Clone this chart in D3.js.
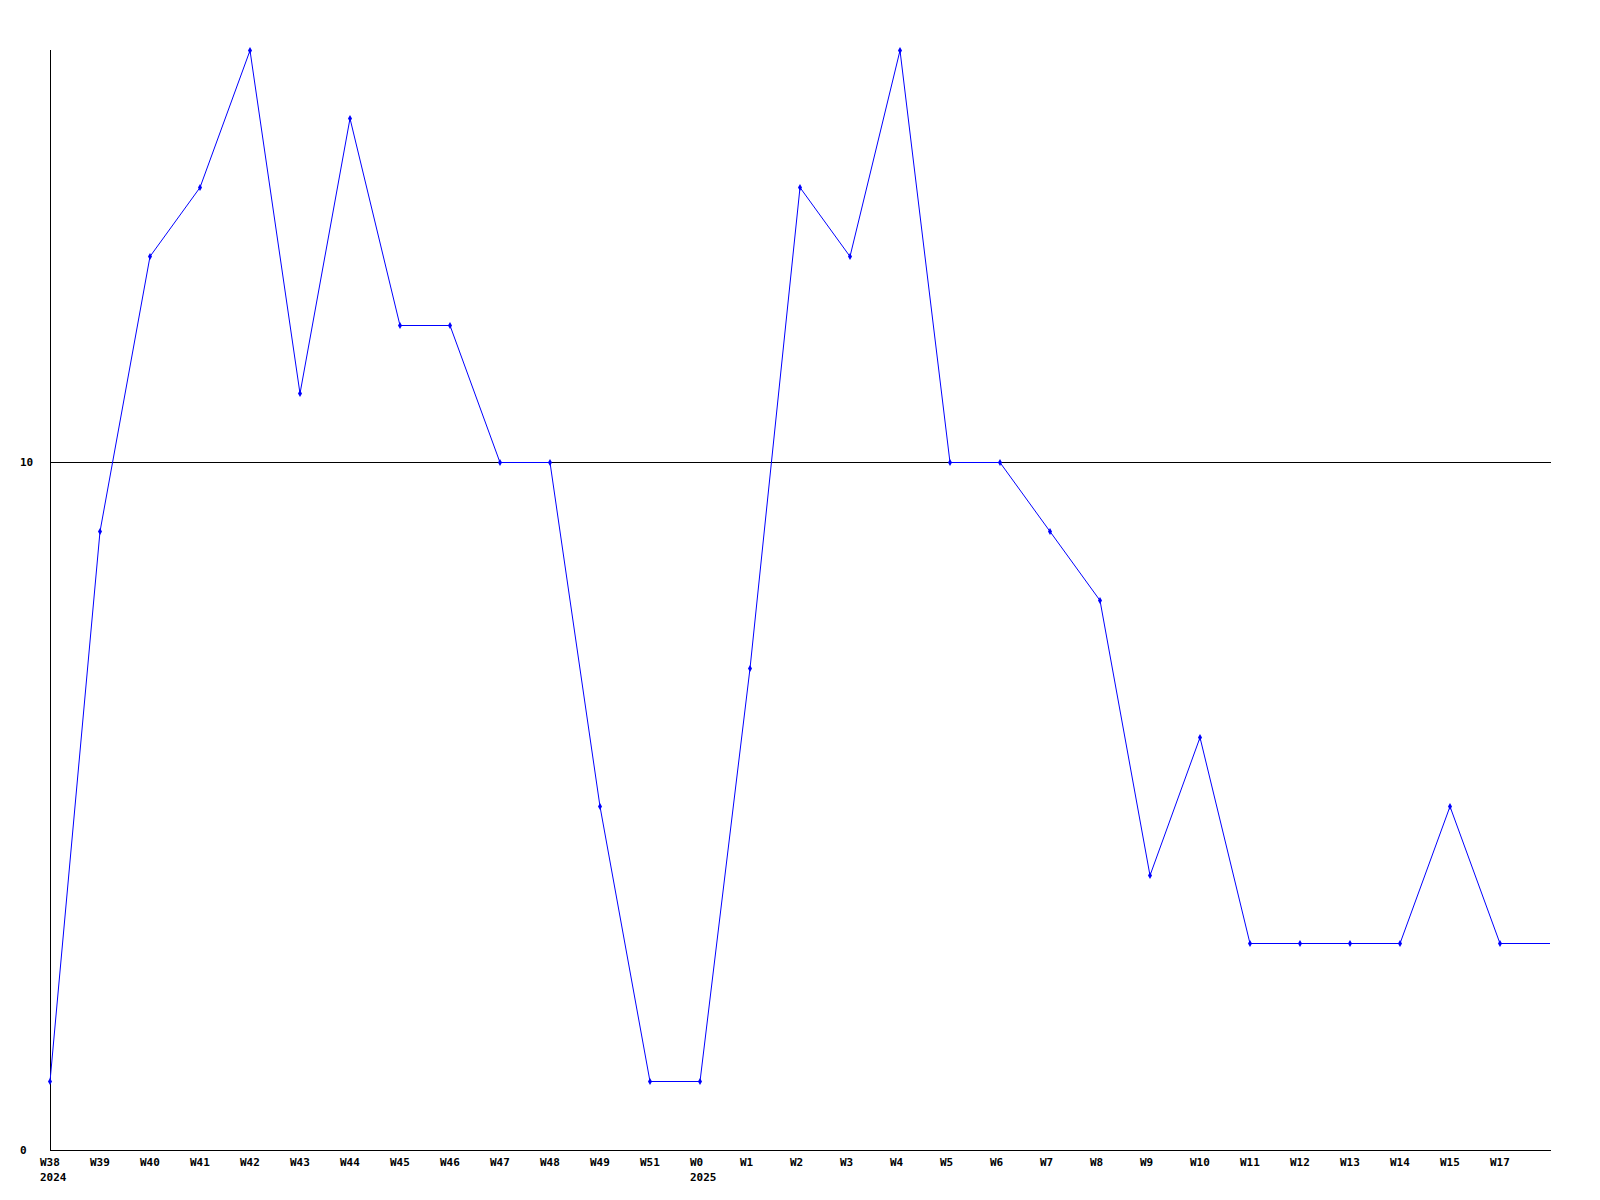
<!DOCTYPE html>
<html><head><meta charset="utf-8">
<script src="https://cdn.jsdelivr.net/npm/d3@7"></script>
<style>body{margin:0;background:#fff}svg{display:block}</style>
</head><body>
<script>
const weekLabels = ["W38","W39","W40","W41","W42","W43","W44","W45","W46","W47","W48","W49","W51","W0","W1","W2","W3","W4","W5","W6","W7","W8","W9","W10","W11","W12","W13","W14","W15","W17",""];
const yearLabels = ["2024","","","","","","","","","","","","","2025","","","","","","","","","","","","","","","","",""];
const values = [1,9,13,14,16,11,15,12,12,10,10,5,1,1,7,14,13,16,10,10,9,8,4,6,3,3,3,3,5,3,3];
const markerShown = weekLabels.map(l => l !== "");
const yTicks = [0,10];

const W = 1600, H = 1200;
const svg = d3.select("body").append("svg").attr("width", W).attr("height", H);
const x = d3.scalePoint().domain(d3.range(weekLabels.length)).range([50, 1550]);
const y = d3.scaleLinear().domain([0,16]).range([1150, 50]);
const font = "'DejaVu Sans Mono', monospace";

// axes lines
svg.append("line").attr("x1",50.5).attr("x2",50.5).attr("y1",y(16)).attr("y2",y(0)).attr("stroke","#000").attr("shape-rendering","crispEdges");
svg.append("line").attr("x1",50).attr("x2",1551).attr("y1",y(0)+0.5).attr("y2",y(0)+0.5).attr("stroke","#000").attr("shape-rendering","crispEdges");
// grid at 10
yTicks.filter(t => t > 0).forEach(t => {
  svg.append("line").attr("x1",50).attr("x2",1551).attr("y1",Math.floor(y(t))+0.5).attr("y2",Math.floor(y(t))+0.5).attr("stroke","#000").attr("shape-rendering","crispEdges");
});
// y tick labels
svg.selectAll("text.yt").data(yTicks).enter().append("text")
  .attr("x",20).attr("y",d=>y(d)).attr("dy","0.35em")
  .attr("font-family",font).attr("font-weight","bold").attr("font-size",11)
  .text(d=>d);
// x labels
svg.selectAll("text.xl").data(weekLabels).enter().append("text")
  .attr("x",(d,i)=>x(i)-10).attr("y",1166)
  .attr("font-family",font).attr("font-weight","bold").attr("font-size",11)
  .text(d=>d);
svg.selectAll("text.yl").data(yearLabels).enter().append("text")
  .attr("x",(d,i)=>x(i)-10).attr("y",1181)
  .attr("font-family",font).attr("font-weight","bold").attr("font-size",11)
  .text(d=>d);
// line
const line = d3.line().x((d,i)=>x(i)).y(d=>Math.floor(y(d))+0.5);
svg.append("path").datum(values).attr("d",line).attr("fill","none").attr("stroke","#0000ff").attr("stroke-width",1);
// markers
svg.selectAll("path.m").data(values.map((v,i)=>({v,i})).filter(d=>markerShown[d.i])).enter().append("path")
  .attr("transform",d=>`translate(${x(d.i)},${Math.floor(y(d.v))+0.5})`)
  .attr("d",d3.symbol().type(d3.symbolDiamond).size(14))
  .attr("fill","#0000ff");
</script>
</body></html>
